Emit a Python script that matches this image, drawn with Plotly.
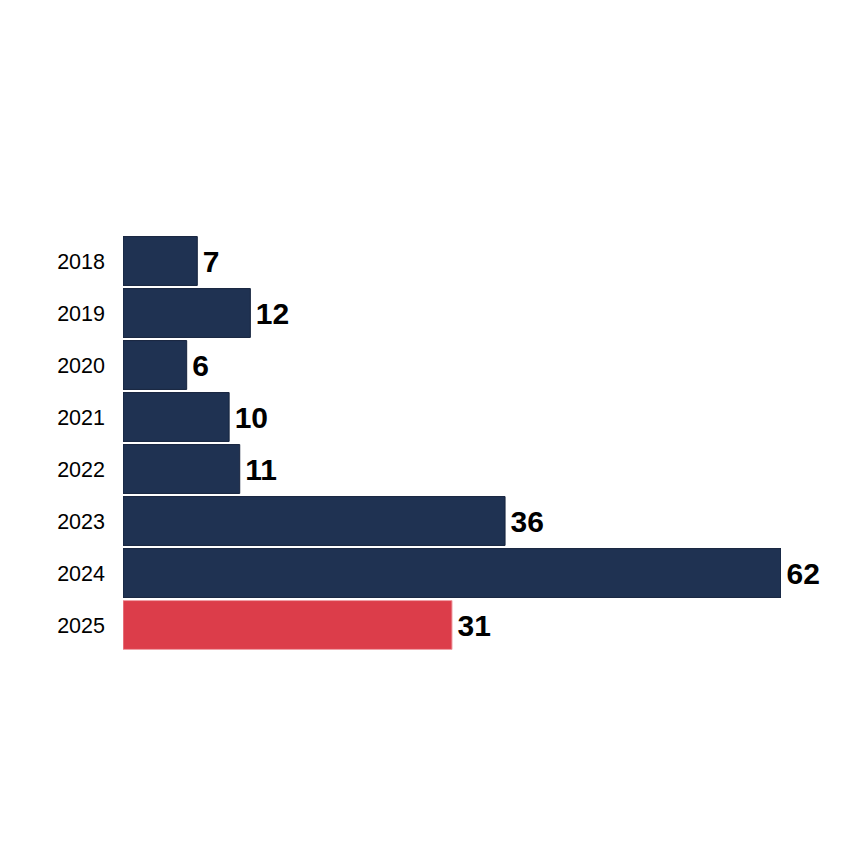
import plotly.graph_objects as go

years = ["2018", "2019", "2020", "2021", "2022", "2023", "2024", "2025"]
counts = [7, 12, 6, 10, 11, 36, 62, 31]
bar_colors = ["#1f3252"] * 7 + ["#dc3d4a"]
line_colors = ["#15233d"] * 7 + ["#f0a0a6"]

fig = go.Figure(go.Bar(
    x=counts,
    y=years,
    orientation="h",
    marker=dict(color=bar_colors, line=dict(color=line_colors, width=1)),
    text=counts,
    texttemplate="\u200a%{x}",
    textposition="outside",
    cliponaxis=False,
    textfont=dict(family="Liberation Sans, Arial, sans-serif", size=30, color="black", weight="bold"),
))

fig.update_layout(
    width=865, height=865,
    margin=dict(l=115, r=92, t=227, b=222),
    paper_bgcolor="white", plot_bgcolor="white",
    bargap=0.06,
    showlegend=False,
    font=dict(family="Liberation Sans, Arial, sans-serif", color="black"),
)
fig.update_xaxes(range=[0, 62], visible=False, showgrid=False)
fig.update_yaxes(autorange="reversed", showgrid=False, zeroline=False,
                 tickfont=dict(size=21.5, color="black"), ticks="", ticklabelstandoff=17)

fig.write_html("out.html")
